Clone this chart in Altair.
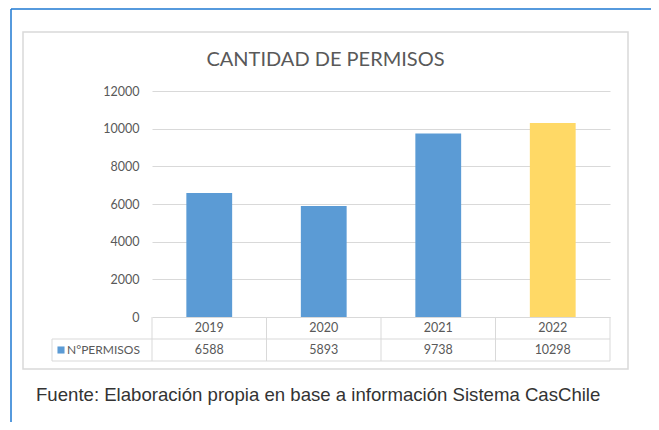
import altair as alt
import pandas as pd

years = ["2019", "2020", "2021", "2022"]
permisos = [6588, 5893, 9738, 10298]
bar_colors = ["#5B9BD5", "#5B9BD5", "#5B9BD5", "#FFD966"]
y_ticks = [0, 2000, 4000, 6000, 8000, 10000, 12000]
title_text = "CANTIDAD DE PERMISOS"
series_name = "N°PERMISOS"
source_text = "Fuente: Elaboración propia en base a información Sistema CasChile"

W, H = 458, 226
df = pd.DataFrame({"year": years, "permisos": permisos, "col": years})
one = pd.DataFrame({"a": [0]})

GREY = "#595959"
LINE = "#D9D9D9"
FONT = "Lato"

xenc = alt.X("year:N", sort=years, axis=None,
             scale=alt.Scale(paddingInner=0, paddingOuter=0))

box = alt.Chart(one).mark_rect(filled=False, stroke=LINE, strokeWidth=1.5).encode(
    x=alt.value(-129), x2=alt.value(476), y=alt.value(-59), y2=alt.value(278))

frame_top = alt.Chart(one).mark_rule(color="#1E78D2", strokeWidth=1.5).encode(
    x=alt.value(-141), x2=alt.value(W + 41), y=alt.value(-82))
frame_left = alt.Chart(one).mark_rule(color="#1E78D2", strokeWidth=1.5).encode(
    x=alt.value(-141), y=alt.value(-82), y2=alt.value(H + 105))

bars = alt.Chart(df).mark_bar(width={"band": 0.4}).encode(
    x=xenc,
    y=alt.Y("permisos:Q", scale=alt.Scale(domain=[0, 12000]),
            axis=alt.Axis(values=y_ticks, format="d", grid=True, gridColor=LINE, domain=False,
                          ticks=False, labelPadding=13, labelColor=GREY,
                          labelFont=FONT, labelFontSize=12.5, title=None)),
    color=alt.Color("col:N", scale=alt.Scale(domain=years, range=bar_colors), legend=None),
)

# table lines
vlines = alt.Chart(df).mark_rule(color=LINE).encode(
    x=alt.X("year:N", sort=years, axis=None, bandPosition=0,
            scale=alt.Scale(paddingInner=0, paddingOuter=0)),
    y=alt.value(H), y2=alt.value(H + 44))
vright = alt.Chart(one).mark_rule(color=LINE).encode(
    x=alt.value(W), y=alt.value(H), y2=alt.value(H + 44))
vleft = alt.Chart(one).mark_rule(color=LINE).encode(
    x=alt.value(-100), y=alt.value(H + 22), y2=alt.value(H + 44))
hmid = alt.Chart(one).mark_rule(color=LINE).encode(
    x=alt.value(-100), x2=alt.value(W), y=alt.value(H + 22))
hbot = alt.Chart(one).mark_rule(color=LINE).encode(
    x=alt.value(-100), x2=alt.value(W), y=alt.value(H + 44))

year_txt = alt.Chart(df).mark_text(font=FONT, fontSize=12.5, color=GREY, baseline="middle").encode(
    x=xenc, y=alt.value(H + 11), text="year:N")
val_txt = alt.Chart(df).mark_text(font=FONT, fontSize=12.5, color=GREY, baseline="middle").encode(
    x=xenc, y=alt.value(H + 33), text=alt.Text("permisos:Q", format="d"))

leg_sq = alt.Chart(one).mark_square(color="#5B9BD5", size=50, opacity=1).encode(
    x=alt.value(-91), y=alt.value(H + 33))
leg_txt = alt.Chart(pd.DataFrame({"t": [series_name]})).mark_text(
    font=FONT, fontSize=12, color=GREY, align="left", baseline="middle").encode(
    x=alt.value(-85), y=alt.value(H + 33), text="t:N")

title = alt.Chart(pd.DataFrame({"t": [title_text]})).mark_text(
    font=FONT, fontSize=20, color=GREY, align="center", baseline="middle").encode(
    x=alt.value(173.5), y=alt.value(-31), text="t:N")
source = alt.Chart(pd.DataFrame({"t": [source_text]})).mark_text(
    font="Liberation Sans", fontSize=18.6, color="#333333", align="left", baseline="alphabetic").encode(
    x=alt.value(-116), y=alt.value(310), text="t:N")

chart = alt.layer(
    box, frame_top, frame_left, bars, vlines, vright, vleft, hmid, hbot,
    year_txt, val_txt, leg_sq, leg_txt, title, source
).properties(
    width=W, height=H,
    padding={"left": 144, "top": 83, "right": 41, "bottom": 105},
    autosize=alt.AutoSizeParams(type="none"),
    background="white",
).configure_view(stroke=None)

chart.save("out.html", embed_options={"renderer": "svg", "actions": False})
